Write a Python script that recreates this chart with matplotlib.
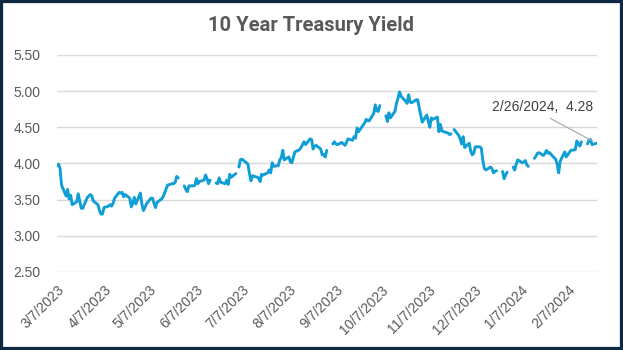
import numpy as np
import pandas as pd
import matplotlib
matplotlib.use("Agg")
import matplotlib.pyplot as plt
from matplotlib.patches import Rectangle

# Daily 10 year yields (%), one entry per business day; None = market holiday
mar_2023 = [3.97, 3.99, 3.93, 3.70, 3.55, 3.64, 3.51, 3.56, 3.43, 3.47,
            3.58, 3.48, 3.38, 3.38, 3.53, 3.55, 3.57, 3.55, 3.48]
apr_2023 = [3.43, 3.35, 3.30, 3.30, 3.39, 3.41, 3.43, 3.41, 3.45, 3.52,
            3.60, 3.59, 3.60, 3.54, 3.57, 3.52, 3.40, 3.45, 3.53, 3.44]
may_2023 = [3.59, 3.44, 3.35, 3.39, 3.44, 3.52, 3.52, 3.45, 3.39, 3.46,
            3.51, 3.54, 3.59, 3.65, 3.70, 3.72, 3.72, 3.74, 3.82, 3.80,
            None, 3.69, 3.64]
jun_2023 = [3.61, 3.69, 3.69, 3.70, 3.79, 3.72, 3.75, 3.77, 3.84, 3.79,
            3.72, 3.77, None, 3.73, 3.72, 3.80, 3.74, 3.72, 3.77, 3.71,
            3.85, 3.81]
jul_2023 = [3.86, None, 3.95, 4.05, 4.06, 4.01, 3.99, 3.86, 3.76, 3.83,
            3.81, 3.80, 3.75, 3.85, 3.84, 3.87, 3.91, 3.87, 4.01, 3.96,
            3.97]
aug_2023 = [4.05, 4.08, 4.18, 4.05, 4.09, 4.02, 4.01, 4.09, 4.16, 4.19,
            4.22, 4.26, 4.30, 4.26, 4.34, 4.33, 4.20, 4.24, 4.25, 4.20,
            4.12, 4.12, 4.09]
sep_2023 = [4.18, None, 4.27, 4.30, 4.27, 4.26, 4.29, 4.27, 4.25, 4.29,
            4.34, 4.32, 4.37, 4.35, 4.49, 4.44, 4.53, 4.56, 4.61, 4.59,
            4.59]
oct_2023 = [4.69, 4.81, 4.73, 4.72, 4.80, None, 4.66, 4.58, 4.70, 4.63,
            4.72, 4.83, 4.90, 4.99, 4.93, 4.86, 4.83, 4.95, 4.85, 4.84,
            4.88, 4.88]
nov_2023 = [4.77, 4.67, 4.57, 4.67, 4.58, 4.50, 4.63, 4.61, 4.64, 4.44,
            4.54, 4.45, 4.44, 4.42, 4.40, 4.41, None, 4.47, 4.39, 4.34,
            4.27, 4.37]
dec_2023 = [4.22, 4.28, 4.17, 4.12, 4.14, 4.23, 4.23, 4.21, 4.04, 3.93,
            3.91, 3.95, 3.93, 3.87, 3.89, 3.90, None, 3.89, 3.79, 3.84,
            3.88]
jan_2024 = [None, 3.95, 3.91, 3.99, 4.05, 4.01, 4.02, 4.04, 3.98, 3.96,
            None, 4.07, 4.10, 4.14, 4.15, 4.11, 4.14, 4.18, 4.14, 4.15,
            4.08, 4.06, 3.99]
feb_2024 = [3.87, 4.03, 4.16, 4.09, 4.12, 4.15, 4.18, 4.19, 4.31, 4.27,
            4.24, 4.30, None, 4.27, 4.32, 4.33, 4.26, 4.28]

months = [mar_2023, apr_2023, may_2023, jun_2023, jul_2023, aug_2023,
          sep_2023, oct_2023, nov_2023, dec_2023, jan_2024, feb_2024]
yields = np.array([np.nan if v is None else v for m in months for v in m])
dates = pd.bdate_range("2023-03-07", "2024-02-26")
assert len(dates) == len(yields)

# month ticks fall on the 7th
tick_dates = pd.date_range("2023-03-01", "2024-02-01", freq="MS") + pd.Timedelta(days=6)
y_ticks = [2.5, 3.0, 3.5, 4.0, 4.5, 5.0, 5.5]

text_color = "#595959"
line_color = "#0F9ED5"

fig = plt.figure(figsize=(6.23, 3.5), dpi=100)
ax = fig.add_axes([0.0915, 0.223, 0.866, 0.62])

ax.plot(dates, yields, color=line_color, linewidth=2.1, solid_capstyle="round",
        solid_joinstyle="round")

ax.set_xlim(dates[0], dates[-1])
ax.set_ylim(2.5, 5.5)
ax.set_yticks(y_ticks)
ax.yaxis.set_major_formatter(matplotlib.ticker.FormatStrFormatter("%.2f"))
ax.set_xticks(tick_dates)
ax.set_xticklabels([f"{d.month}/{d.day}/{d.year}" for d in tick_dates])

for s in ax.spines.values():
    s.set_visible(False)
ax.grid(axis="y", color="#D9D9D9", linewidth=1.0)
ax.set_axisbelow(True)
ax.tick_params(axis="both", length=0, labelcolor=text_color)
ax.tick_params(axis="y", pad=12)
ax.tick_params(axis="x", pad=8)
for lbl in ax.get_yticklabels():
    lbl.set_fontfamily("Liberation Sans")
    lbl.set_fontsize(10)
for lbl in ax.get_xticklabels():
    lbl.set_fontfamily("Liberation Sans")
    lbl.set_fontsize(10)
    lbl.set_rotation(45)
    lbl.set_ha("right")
    lbl.set_va("top")
    lbl.set_rotation_mode("anchor")

# label the last reading
last_date, last_val = dates[-1], yields[-1]
ax.annotate(f"{last_date.month}/{last_date.day}/{last_date.year},  {last_val:.2f}",
            xy=(last_date, last_val), xytext=(-54, 36), textcoords="offset pixels",
            ha="center", va="center", fontsize=10, family="Liberation Sans",
            color="#404040",
            arrowprops=dict(arrowstyle="-", color="#A6A6A6", lw=0.8,
                            relpos=(0.5, 0.0), shrinkA=2, shrinkB=3))

fig.text(0.5, 0.927, "10 Year Treasury Yield", ha="center", va="center",
         fontsize=14.5, fontweight="bold", family="Roboto", color=text_color)

fig.patches.append(Rectangle((0, 0), 1, 1, transform=fig.transFigure, fill=False,
                             edgecolor="#0E2841", linewidth=4.5))

fig.savefig("out.png", dpi=100)
